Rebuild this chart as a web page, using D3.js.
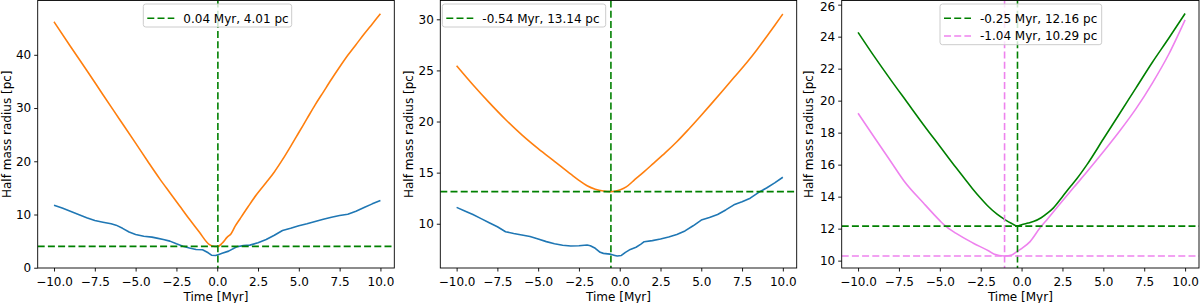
<!DOCTYPE html>
<html>
<head>
<meta charset="utf-8">
<script src="https://cdn.jsdelivr.net/npm/d3@7"></script>
<style>
  body { margin: 0; background: #fff; }
  text { font-family: "DejaVu Sans", sans-serif; }
</style>
</head>
<body>
<svg id="fig" width="1200" height="303"></svg>
<script>
// ---- data ----
const xTicks = [-10, -7.5, -5, -2.5, 0, 2.5, 5, 7.5, 10];
const p1YTicks = [0, 10, 20, 30, 40];
const p2YTicks = [10, 15, 20, 25, 30];
const p3YTicks = [10, 12, 14, 16, 18, 20, 22, 24, 26];

// panel 1  [time Myr, half mass radius pc]
const p1Blue = [[-10,11.75],[-9.5,11.2],[-9,10.6],[-8.5,10.0],[-8,9.4],[-7.5,8.87],[-7,8.55],[-6.5,8.25],[-6.2,8.0],
  [-5.8,7.4],[-5.4,6.7],[-5,6.25],[-4.5,5.9],[-4,5.75],[-3.7,5.56],[-3.3,5.3],[-2.9,5.0],[-2.5,4.5],[-2.1,4.05],
  [-1.7,3.7],[-1.3,3.43],[-0.9,3.37],[-0.55,2.8],[-0.35,2.35],[-0.1,2.3],[0.1,2.5],[0.3,2.7],[0.7,3.12],[1.2,3.93],
  [1.6,4.15],[2.0,4.25],[2.5,4.7],[3.0,5.3],[3.5,6.1],[4.0,7.0],[4.5,7.4],[5.0,7.9],[5.5,8.25],[6.0,8.7],[6.5,9.1],
  [7.0,9.5],[7.5,9.8],[8.0,10.05],[8.5,10.6],[9.0,11.3],[9.5,12.0],[10,12.62]];
const p1Orange = [[-10,46.2],[-9,41.6],[-8,37.1],[-7,32.5],[-6,27.95],[-5,23.4],[-4.26,20],[-3.5,16.6],[-2.9,14.1],
  [-2.3,11.6],[-1.7,9.1],[-1.1,6.7],[-0.5,4.4],[-0.15,4.0],[0.04,4.0],[0.3,4.6],[0.6,5.7],[0.85,6.4],[1.1,7.8],
  [1.4,9.2],[1.9,11.5],[2.4,13.7],[3.0,16.0],[3.5,18.0],[4.0,20.3],[4.5,22.8],[5.0,25.4],[5.5,28.0],[6.0,30.6],
  [6.5,33.0],[7.0,35.4],[7.5,37.7],[8.0,39.9],[8.5,41.9],[9.0,43.9],[9.5,45.8],[10,47.7]];
const p1Legend = ["0.04 Myr, 4.01 pc"];
const p1Min = { t: 0.04, r: 4.01 };

// panel 2
const p2Blue = [[-10,11.6],[-9.5,11.25],[-9,10.9],[-8.5,10.5],[-8,10.1],[-7.5,9.7],[-7,9.22],[-6.5,9.05],[-6,8.9],
  [-5.5,8.75],[-5,8.5],[-4.5,8.25],[-4,8.05],[-3.5,7.9],[-3,7.82],[-2.5,7.85],[-2,7.92],[-1.8,7.85],[-1.5,7.6],
  [-1.2,7.2],[-1.0,7.1],[-0.6,7.03],[-0.3,6.9],[-0.15,6.84],[0.1,6.9],[0.35,7.2],[0.65,7.49],[1.0,7.7],[1.3,8.0],
  [1.5,8.24],[2.0,8.35],[2.5,8.5],[3.0,8.7],[3.5,8.95],[4.0,9.3],[4.5,9.8],[5.0,10.36],[5.5,10.6],[6.0,10.9],
  [6.5,11.35],[7.0,11.85],[7.5,12.15],[8.0,12.5],[8.5,13.05],[9.0,13.5],[9.5,14.0],[10,14.55]];
const p2Orange = [[-10,25.46],[-9,23.6],[-8,21.85],[-7,20.2],[-6,18.7],[-5,17.35],[-4,16.1],[-3,14.85],[-2.5,14.25],
  [-2,13.72],[-1.5,13.38],[-1,13.2],[-0.54,13.14],[0,13.3],[0.4,13.6],[0.84,14.2],[1.5,15.1],[2.07,15.91],[2.8,16.95],
  [3.5,18.02],[4.2,19.2],[4.92,20.47],[5.6,21.7],[6.35,23.08],[7,24.3],[7.78,25.75],[8.4,27.0],[9,28.3],[9.5,29.4],
  [10,30.52]];
const p2Legend = ["-0.54 Myr, 13.14 pc"];
const p2Min = { t: -0.54, r: 13.14 };

// panel 3
const p3Green = [[-10,24.27],[-9,22.75],[-8,21.3],[-7,19.9],[-6,18.5],[-5,17.15],[-4,15.8],[-3.5,15.15],[-3,14.5],
  [-2.5,13.9],[-2,13.35],[-1.5,12.9],[-1,12.55],[-0.6,12.32],[-0.25,12.16],[0,12.25],[0.4,12.35],[0.72,12.44],
  [1.2,12.68],[1.6,12.98],[1.95,13.3],[2.5,14.0],[3,14.65],[3.4,15.15],[4,16.0],[5,17.6],[6,19.2],[7,20.8],
  [8,22.4],[9,23.9],[10,25.45]];
const p3Pink = [[-10,19.21],[-9,17.7],[-8,16.2],[-7.2,15.0],[-6,13.6],[-5,12.5],[-4.7,12.2],[-4,11.7],[-2.95,11.09],
  [-2,10.6],[-1.7,10.42],[-1.04,10.29],[-0.6,10.35],[-0.29,10.56],[0,10.75],[0.52,11.19],[1.13,12.05],[1.6,12.62],
  [2.15,13.3],[3.17,14.55],[4,15.55],[5,16.8],[6,18.1],[7,19.5],[8,21.1],[9,22.9],[10,25.05]];
const p3Legend = ["-0.25 Myr, 12.16 pc", "-1.04 Myr, 10.29 pc"];
const p3GreenMin = { t: -0.25, r: 12.16 };
const p3PinkMin = { t: -1.04, r: 10.29 };

const BLUE = "#1f77b4", ORANGE = "#ff7f0e", GREEN = "#008000", VIOLET = "#ee82ee";

const svg = d3.select("#fig");
const axTop = 0.5, axBottom = 268;
const xDomain = [-11, 10.85];

const panels = [
  { id: 1, left: 37.7, right: 394.3, yDomain: [-0.05, 50.2], yTicks: p1YTicks, ylabelX: 11,
    curves: [{ data: p1Blue, color: BLUE }, { data: p1Orange, color: ORANGE, smooth: true }],
    marks: [{ m: p1Min, color: GREEN }],
    legend: { x: 143.3, w: 148.4, items: [{ label: p1Legend[0], color: GREEN }] } },
  { id: 2, left: 440.3, right: 796.7, yDomain: [5.67, 31.84], yTicks: p2YTicks, ylabelX: 412.5,
    curves: [{ data: p2Blue, color: BLUE }, { data: p2Orange, color: ORANGE, smooth: true }],
    marks: [{ m: p2Min, color: GREEN }],
    legend: { x: 442.3, w: 163.4, items: [{ label: p2Legend[0], color: GREEN }] } },
  { id: 3, left: 841.7, right: 1199, yDomain: [9.54, 26.26], yTicks: p3YTicks, ylabelX: 813,
    curves: [{ data: p3Green, color: GREEN, smooth: true }, { data: p3Pink, color: VIOLET, smooth: true }],
    marks: [{ m: p3GreenMin, color: GREEN }, { m: p3PinkMin, color: VIOLET }],
    legend: { x: 940, w: 161.7, items: [{ label: p3Legend[0], color: GREEN }, { label: p3Legend[1], color: VIOLET }] } }
];

panels.forEach(p => {
  const x = d3.scaleLinear().domain(xDomain).range([p.left, p.right]);
  const y = d3.scaleLinear().domain(p.yDomain).range([axBottom, axTop]);
  const g = svg.append("g");

  g.append("clipPath").attr("id", "clip" + p.id)
    .append("rect").attr("x", p.left).attr("y", axTop)
    .attr("width", p.right - p.left).attr("height", axBottom - axTop);

  const plot = g.append("g").attr("clip-path", `url(#clip${p.id})`);

  p.curves.forEach(c => {
    const line = d3.line().x(d => x(d[0])).y(d => y(d[1]))
      .curve(c.smooth ? d3.curveMonotoneX : d3.curveLinear);
    plot.append("path").datum(c.data)
      .attr("d", line)
      .attr("fill", "none")
      .attr("stroke", c.color)
      .attr("stroke-width", 1.6)
      .attr("stroke-linejoin", "round");
  });

  // dashed markers at the minimum
  p.marks.forEach(k => {
    plot.append("line")
      .attr("x1", x(k.m.t)).attr("x2", x(k.m.t))
      .attr("y1", axTop).attr("y2", axBottom)
      .attr("stroke", k.color).attr("stroke-width", 1.6)
      .attr("stroke-dasharray", "7,3.2");
    plot.append("line")
      .attr("x1", p.left).attr("x2", p.right)
      .attr("y1", y(k.m.r)).attr("y2", y(k.m.r))
      .attr("stroke", k.color).attr("stroke-width", 1.6)
      .attr("stroke-dasharray", "7,3.2");
  });

  // axes
  const xAxis = g.append("g")
    .attr("transform", `translate(0,${axBottom})`)
    .call(d3.axisBottom(x).tickValues(xTicks).tickFormat(d3.format(".1f")).tickSize(3.5).tickPadding(6));
  const yAxis = g.append("g")
    .attr("transform", `translate(${p.left},0)`)
    .call(d3.axisLeft(y).tickValues(p.yTicks).tickFormat(d3.format("d")).tickSize(3.5).tickPadding(3));
  [xAxis, yAxis].forEach(a => {
    a.select(".domain").remove();
    a.selectAll("text").attr("font-size", 12).attr("fill", "#000")
      .attr("font-family", "DejaVu Sans, sans-serif");
    a.selectAll("line").attr("stroke", "#000").attr("stroke-width", 0.9);
  });
  // top tick label of panel 3 sits at the very edge; keep it inside the picture
  yAxis.selectAll(".tick text").filter(d => y(d) < 6).attr("dy", "0.5em");

  // frame
  g.append("rect")
    .attr("x", p.left).attr("y", axTop)
    .attr("width", p.right - p.left).attr("height", axBottom - axTop)
    .attr("fill", "none").attr("stroke", "#000").attr("stroke-width", 0.9);

  // axis labels
  g.append("text")
    .attr("x", (p.left + p.right) / 2).attr("y", 300.5)
    .attr("text-anchor", "middle").attr("font-size", 12)
    .text("Time [Myr]");
  g.append("text")
    .attr("transform", `translate(${p.ylabelX},${(axTop + axBottom) / 2}) rotate(-90)`)
    .attr("text-anchor", "middle").attr("font-size", 12)
    .text("Half mass radius [pc]");

  // legend
  const lg = g.append("g");
  const rowH = 17.7;
  const h = 7 + rowH * p.legend.items.length + 3;
  lg.append("rect")
    .attr("x", p.legend.x).attr("y", 4)
    .attr("width", p.legend.w).attr("height", h - 4.7)
    .attr("rx", 2.5)
    .attr("fill", "#fff").attr("fill-opacity", 0.8)
    .attr("stroke", "#cccccc").attr("stroke-width", 1);
  p.legend.items.forEach((it, i) => {
    const cy = 18.3 + i * rowH;
    lg.append("line")
      .attr("x1", p.legend.x + 4).attr("x2", p.legend.x + 31)
      .attr("y1", cy).attr("y2", cy)
      .attr("stroke", it.color).attr("stroke-width", 1.6)
      .attr("stroke-dasharray", "7,3.2");
    lg.append("text")
      .attr("x", p.legend.x + 40).attr("y", cy + 4.3)
      .attr("font-size", 12)
      .text(it.label);
  });
});
</script>
</body>
</html>
